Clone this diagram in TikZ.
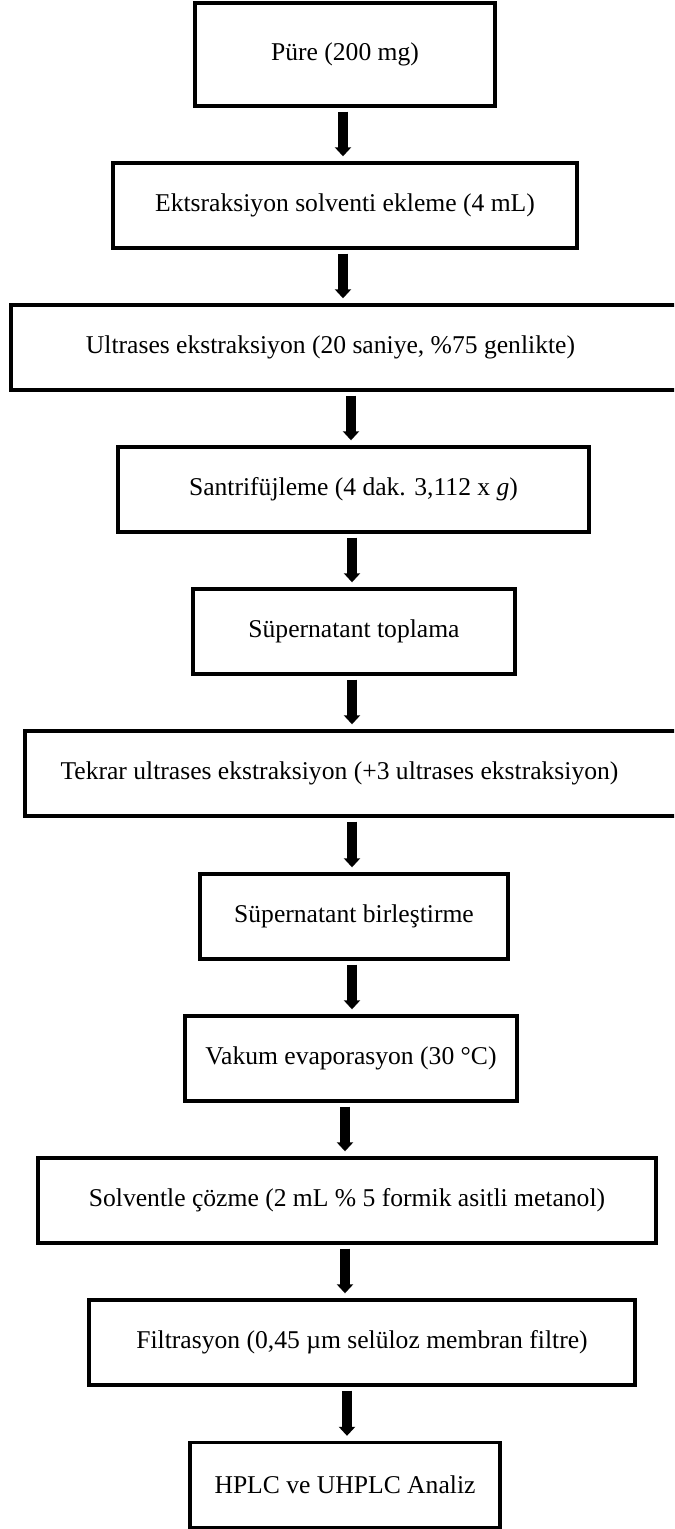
\documentclass[tikz,border=0pt]{standalone}
\usepackage{fontspec}
\setmainfont{Liberation Serif}
\usetikzlibrary{arrows.meta}
\begin{document}
\begin{tikzpicture}[x=0.5pt,y=-0.5pt,
  stepbox/.style={draw=black, line width=1.7pt, rectangle, inner sep=0pt,
    minimum height=42.5pt, font=\fontsize{12.8}{14}\selectfont},
  flow/.style={line width=5pt, -{Triangle[width=8pt,length=4.5pt]},
    shorten <=2pt, shorten >=2.5pt}]
\clip (0,0) rectangle (674,1529);
\fill[white] (0,0) rectangle (674,1529);

% process steps, top to bottom
\node[stepbox, minimum width=150pt, minimum height=51.5pt] (b1) at (345,54.5) {Püre (200 mg)};
\node[stepbox, minimum width=232pt] (b2) at (345,205.5) {Ektsraksiyon solventi ekleme (4 mL)};
\node[stepbox, minimum width=339.5pt] (b3) at (350.5,347.5) {\hspace*{-20pt}Ultrases ekstraksiyon (20 saniye, \%75 genlikte)};
\node[stepbox, minimum width=235.5pt] (b4) at (353.5,489.5) {Santrifüjleme (4 dak. 3,112 x \textit{g})};
\node[stepbox, minimum width=161pt] (b5) at (354,631.5) {Süpernatant toplama};
\node[stepbox, minimum width=332.5pt] (b6) at (357.5,773.5) {\hspace*{-18pt}Tekrar ultrases ekstraksiyon (+3 ultrases ekstraksiyon)};
\node[stepbox, minimum width=154pt] (b7) at (354,916.5) {Süpernatant birleştirme};
\node[stepbox, minimum width=166pt] (b8) at (351,1058.5) {Vakum evaporasyon (30 °C)};
\node[stepbox, minimum width=309pt] (b9) at (347,1200.5) {Solventle çözme (2 mL \% 5 formik asitli metanol)};
\node[stepbox, minimum width=273pt] (b10) at (362,1342.5) {Filtrasyon (0,45 µm selüloz membran filtre)};
\node[stepbox, minimum width=155pt] (b11) at (345,1485) {HPLC ve UHPLC Analiz};

% horizontal positions of the arrows
\coordinate (x1) at (343,0);
\coordinate (x2) at (343,0);
\coordinate (x3) at (351,0);
\coordinate (x4) at (352,0);
\coordinate (x5) at (352,0);
\coordinate (x6) at (352,0);
\coordinate (x7) at (352,0);
\coordinate (x8) at (345,0);
\coordinate (x9) at (345,0);
\coordinate (x10) at (347,0);

\draw[flow] (b1.south -| x1) -- (b2.north -| x1);
\draw[flow] (b2.south -| x2) -- (b3.north -| x2);
\draw[flow] (b3.south -| x3) -- (b4.north -| x3);
\draw[flow] (b4.south -| x4) -- (b5.north -| x4);
\draw[flow] (b5.south -| x5) -- (b6.north -| x5);
\draw[flow] (b6.south -| x6) -- (b7.north -| x6);
\draw[flow] (b7.south -| x7) -- (b8.north -| x7);
\draw[flow] (b8.south -| x8) -- (b9.north -| x8);
\draw[flow] (b9.south -| x9) -- (b10.north -| x9);
\draw[flow] (b10.south -| x10) -- (b11.north -| x10);
\end{tikzpicture}
\end{document}
